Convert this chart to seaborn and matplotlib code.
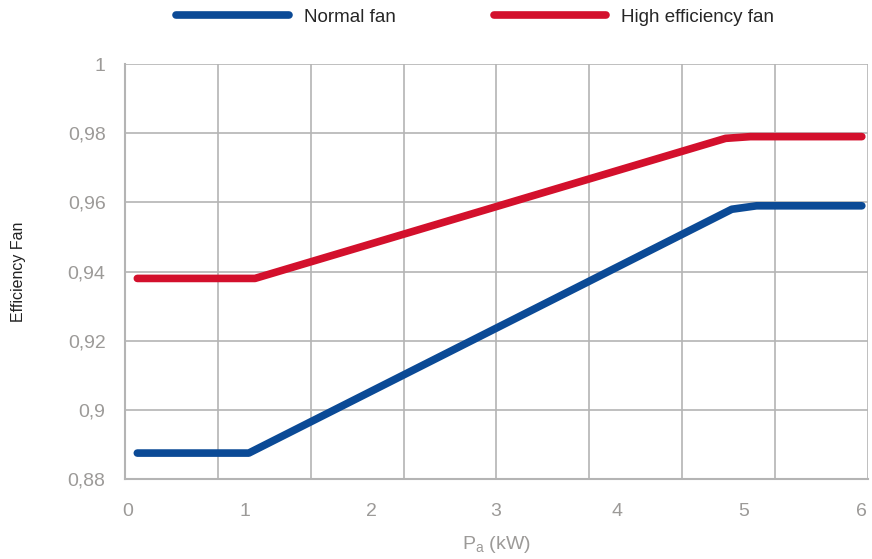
import matplotlib
matplotlib.use("Agg")
import matplotlib.pyplot as plt
import seaborn as sns
import numpy as np
import pandas as pd

# Data
normal_x = [0.1, 1.0, 4.9, 5.1, 5.95]
normal_y = [0.8875, 0.8875, 0.958, 0.959, 0.959]
high_x = [0.1, 1.05, 4.85, 5.05, 5.95]
high_y = [0.938, 0.938, 0.9785, 0.979, 0.979]
series_names = ["Normal fan", "High efficiency fan"]
series_colors = ["#0b4a96", "#d3102c"]
x_labels = ["0", "1", "2", "3", "4", "5", "6"]
x_label_pos = [0.02, 0.97, 1.99, 2.99, 3.97, 5.0, 5.95]
y_ticks = [0.88, 0.9, 0.92, 0.94, 0.96, 0.98, 1.0]
y_labels = ["0,88", "0,9", "0,92", "0,94", "0,96", "0,98", "1"]

df = pd.DataFrame({
    "x": normal_x + high_x,
    "y": normal_y + high_y,
    "series": [series_names[0]] * len(normal_x) + [series_names[1]] * len(high_x),
})

sns.set_theme(style="white")
plt.rcParams["font.family"] = ["Liberation Sans", "DejaVu Sans"]

fig = plt.figure(figsize=(8.72, 5.59), dpi=100)
ax = fig.add_axes([0.1433, 0.1431, 0.8521, 0.7424])

sns.lineplot(data=df, x="x", y="y", hue="series", palette=series_colors,
             hue_order=series_names, linewidth=5.5, ax=ax, legend=False,
             solid_capstyle="round", solid_joinstyle="round")

ax.set_xlim(0, 6)
ax.set_ylim(0.88, 1.0)

grid_c = "#b4b4b4"
lab_c = "#9c9a98"
ax.xaxis.remove_overlapping_locs = False
# gridlines / tick marks at 8 divisions
ax.set_xticks(np.linspace(0, 6, 9))
ax.set_xticklabels([])
ax.set_xticks(x_label_pos, minor=True)
ax.set_xticklabels(x_labels, minor=True)
ax.tick_params(axis="x", which="major", length=9, width=1.2, color=grid_c, direction="out")
ax.tick_params(axis="x", which="minor", length=0, pad=17, labelsize=14, labelcolor=lab_c)

ax.set_yticks(y_ticks)
ax.set_yticklabels(y_labels)
ax.tick_params(axis="y", which="major", length=9, width=1.2, color=grid_c, direction="out",
               labelsize=14, labelcolor=lab_c, pad=5)

ax.grid(True, which="major", color=grid_c, linewidth=1.2)
ax.set_axisbelow(True)
for s in ["top", "right"]:
    ax.spines[s].set_visible(False)
for s in ["left", "bottom"]:
    ax.spines[s].set_color(grid_c)
    ax.spines[s].set_linewidth(1.5)

ax.set_xlabel("P$_\\mathregular{a}$ (kW)", fontsize=14, color=lab_c, labelpad=10)
ax.set_ylabel("Efficiency Fan", fontsize=11.5, color="#222222", labelpad=30)

handles = [plt.Line2D([], [], color=c, linewidth=5.5, solid_capstyle="round") for c in series_colors]
fig.legend(handles, series_names, loc="center", bbox_to_anchor=(0.545, 0.969), ncol=2,
           frameon=False, fontsize=13.5, handlelength=6.0, columnspacing=5.25,
           handletextpad=0.8)

fig.savefig("out.png", dpi=100)
